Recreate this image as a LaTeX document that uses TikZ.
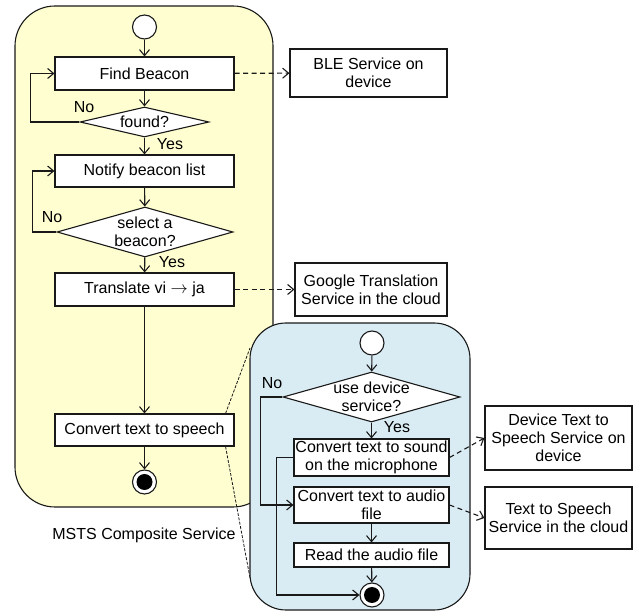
\documentclass[tikz,border=0pt]{standalone}
\usepackage{fontspec}
\setmainfont{Liberation Sans}
\usetikzlibrary{arrows.meta,shapes.geometric,calc}
\definecolor{poolyellow}{RGB}{255,254,208}
\definecolor{poolblue}{RGB}{218,236,243}
\definecolor{edge}{RGB}{25,25,25}

\begin{document}
\begin{tikzpicture}[x=1pt,y=-1pt,
  font=\fontsize{16}{18}\selectfont,
  line width=1.1pt,
  flow/.style={draw=edge, -{Straight Barb[length=6pt,width=10pt]}},
  dep/.style={flow, dash pattern=on 5pt off 3.5pt},
  zoomline/.style={draw=edge, line width=0.8pt, dash pattern=on 3pt off 1.5pt},
  action/.style={draw=edge, fill=white, rectangle, inner sep=0pt, align=center},
  decision/.style={draw=edge, fill=white, diamond, inner sep=0pt},
  initial/.style={draw=edge, fill=white, circle, minimum size=24pt, inner sep=0pt},
  final/.style={draw=edge, fill=white, circle, minimum size=24pt, inner sep=0pt,
    path picture={\fill[black] (path picture bounding box.center) circle (8pt);}},
  tag/.style={anchor=base, inner sep=0pt},
  pool/.style={draw=edge, line width=1.1pt}
]
\useasboundingbox (0,0) rectangle (633,612);

% ---- composite service (yellow pool) ----
\draw[pool, fill=poolyellow, rounded corners=40pt] (15,6) rectangle (273,507);

\node[initial] (ys) at (144.5,27) {};
\node[action, minimum width=179pt, minimum height=33pt] (find) at (144.5,73.5) {Find Beacon};
\node[decision, minimum width=129pt, minimum height=30pt, label=center:found?] (found) at (144.5,122) {};
\node[action, minimum width=179pt, minimum height=32pt] (notify) at (144.5,171) {Notify beacon list};
\node[decision, minimum width=176pt, minimum height=50pt,
      label={[align=center]center:{select a\\beacon?}}] (select) at (145,232) {};
\node[action, minimum width=179pt, minimum height=33pt] (trans) at (144.5,289.5) {Translate vi $\rightarrow$ ja};
\node[action, minimum width=179pt, minimum height=32pt] (tts) at (144.5,430) {Convert text to speech};
\node[final] (yend) at (144.5,482) {};

\draw[flow] (ys) -- (find);
\draw[flow] (find) -- (found);
\draw[flow] (found) -- (notify);
\draw[flow] (found.west) -- ++(-49,0) |- (find.west);
\draw[flow] (notify) -- (select);
\draw[flow] (select.west) -- ++(-24,0) |- (notify.west);
\draw[flow] (select) -- (trans);
\draw[flow] (trans) -- (tts);
\draw[flow] (tts) -- (yend);

\node[tag] (no1) at (84,113) {No};
\node[tag] (yes1) at (170,150) {Yes};
\node[tag] (no2) at (52,223) {No};
\node[tag] (yes2) at (172,268) {Yes};
\node[tag] (cap) at (144,540) {MSTS Composite Service};

% ---- text-to-speech service (blue pool) ----
\draw[pool, fill=poolblue, rounded corners=36pt] (250,323) rectangle (470,610);

\node[initial] (bs) at (372,343) {};
\node[decision, minimum width=177pt, minimum height=50pt,
      label={[align=center]center:{use device\\service?}}] (usedev) at (371.5,397) {};
\node[action, minimum width=155pt, minimum height=37pt] (sound) at (371.5,457.5) {Convert text to sound\\on the microphone};
\node[action, minimum width=155pt, minimum height=36pt] (audio) at (371.5,505) {Convert text to audio\\file};
\node[action, minimum width=155pt, minimum height=24pt] (read) at (371.5,555) {Read the audio file};
\node[final] (bend) at (372,595) {};

\draw[flow] (bs) -- (usedev);
\draw[flow] (usedev) -- (sound);
\draw[flow] (usedev.west) -- ++(-22,0) |- (audio.west);
\draw[flow] (sound.west) -- ++(-17,0) |- (bend.west);
\draw[flow] (audio) -- (read);
\draw[flow] (read) -- (bend);

\node[tag] (no3) at (272,389) {No};
\node[tag] (yes3) at (397,433) {Yes};

% ---- external services ----
\node[action, minimum width=157pt, minimum height=48pt] (ble) at (368.5,73) {BLE Service on\\device};
\node[action, minimum width=152pt, minimum height=53pt] (google) at (371,289.5) {Google Translation\\Service in the cloud};
\node[action, minimum width=147pt, minimum height=64pt] (devtts) at (558.5,438) {Device Text to\\Speech Service on\\device};
\node[action, minimum width=147pt, minimum height=62pt] (cloudtts) at (558.5,518) {Text to Speech\\Service in the cloud};

\draw[dep] (find) -- (ble);
\draw[dep] (trans) -- (google);
\draw[dep] (sound.east) -- (devtts.west);
\draw[dep] (audio.east) -- (cloudtts.west);

% ---- refinement lines from the speech action to its pool ----
\coordinate (zt) at (250,348);
\coordinate (zb) at (250,578);
\draw[zoomline] ([xshift=-9pt]tts.north east) -- (zt);
\draw[zoomline] ([xshift=-9pt]tts.south east) -- (zb);
\end{tikzpicture}
\end{document}
